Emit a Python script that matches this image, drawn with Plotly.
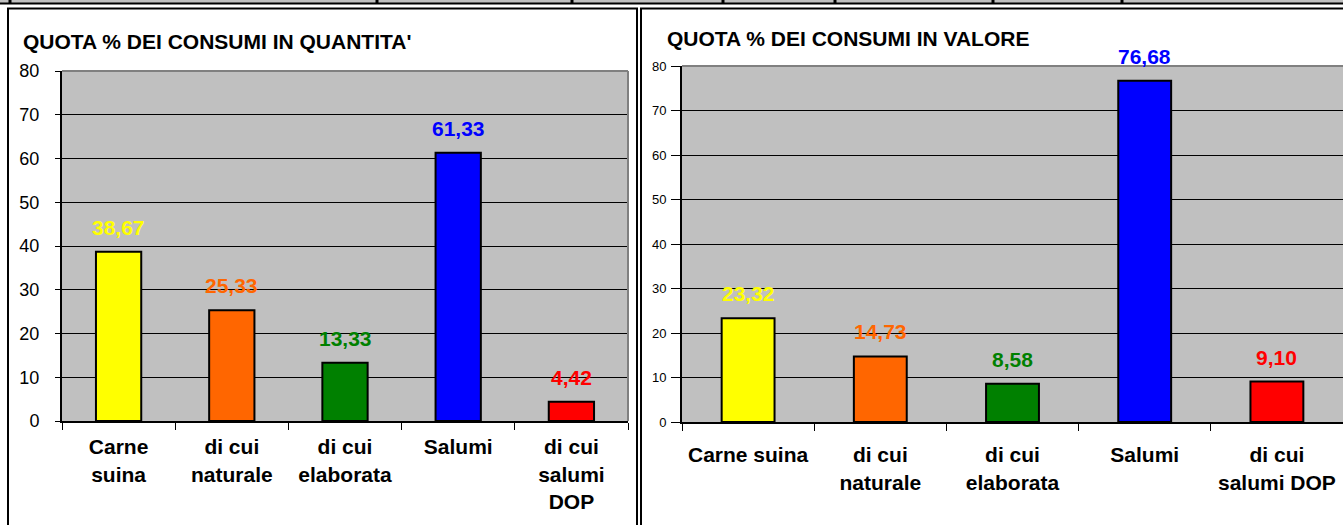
import plotly.graph_objects as go

# ---- data ----
cat_quantita = ["Carne<br>suina", "di cui<br>naturale", "di cui<br>elaborata", "Salumi", "di cui<br>salumi<br>DOP"]
cat_valore = ["Carne suina", "di cui<br>naturale", "di cui<br>elaborata", "Salumi", "di cui<br>salumi DOP"]
quantita = [38.67, 25.33, 13.33, 61.33, 4.42]
valore = [23.32, 14.73, 8.58, 76.68, 9.10]
bar_colors = ["#FFFF00", "#FF6600", "#008000", "#0000FF", "#FF0000"]
title_quantita = "QUOTA % DEI CONSUMI IN QUANTITA'"
title_valore = "QUOTA % DEI CONSUMI IN VALORE"
y_ticks = [0, 10, 20, 30, 40, 50, 60, 70, 80]

W, H = 1343, 525
FONT = "Liberation Sans"

def px(x):
    return x / W

def py(y):
    return 1 - y / H

fig = go.Figure()

fig.add_trace(go.Bar(x=cat_quantita, y=quantita, xaxis="x", yaxis="y",
                     marker=dict(color=bar_colors, line=dict(color="black", width=2)),
                     width=0.4, showlegend=False, hoverinfo="x+y"))
fig.add_trace(go.Bar(x=cat_valore, y=valore, xaxis="x2", yaxis="y2",
                     marker=dict(color=bar_colors, line=dict(color="black", width=2)),
                     width=0.4, showlegend=False, hoverinfo="x+y"))

def fmt(v):
    return f"{v:.2f}".replace(".", ",")

annotations = []
for cats, vals, xr, yr in [(cat_quantita, quantita, "x", "y"), (cat_valore, valore, "x2", "y2")]:
    for c, v, col in zip(cats, vals, bar_colors):
        annotations.append(dict(x=c, y=v, xref=xr, yref=yr, text="<b>" + fmt(v) + "</b>",
                                showarrow=False, yanchor="bottom", yshift=11,
                                font=dict(family=FONT, size=21, color=col)))

annotations.append(dict(x=px(21), y=py(42), xref="paper", yref="paper", xanchor="left", yanchor="middle",
                        text="<b>" + title_quantita + "</b>", showarrow=False,
                        font=dict(family=FONT, size=21, color="black")))
annotations.append(dict(x=px(665), y=py(38), xref="paper", yref="paper", xanchor="left", yanchor="middle",
                        text="<b>" + title_valore + "</b>", showarrow=False,
                        font=dict(family=FONT, size=21, color="black")))

shapes = []
# top table fragment
shapes.append(dict(type="rect", xref="paper", yref="paper", x0=0, x1=1, y0=py(3), y1=py(0),
                   fillcolor="#C0C0C0", line=dict(width=0), layer="above"))
shapes.append(dict(type="line", xref="paper", yref="paper", x0=0, x1=1, y0=py(3.5), y1=py(3.5),
                   line=dict(color="black", width=2), layer="above"))
for xd in [10, 377, 572, 723, 835, 993, 1122]:
    shapes.append(dict(type="line", xref="paper", yref="paper", x0=px(xd), x1=px(xd), y0=py(0), y1=py(3.5),
                       line=dict(color="black", width=3), layer="above"))
# panel borders
shapes.append(dict(type="rect", xref="paper", yref="paper", x0=px(8), x1=px(637), y0=py(530), y1=py(8.5),
                   line=dict(color="black", width=2), layer="above"))
shapes.append(dict(type="rect", xref="paper", yref="paper", x0=px(641), x1=px(1350), y0=py(530), y1=py(8.5),
                   line=dict(color="black", width=2), layer="above"))
# plot area top/right gray edges
shapes.append(dict(type="line", xref="paper", yref="paper", x0=px(62), x1=px(628), y0=py(71), y1=py(71),
                   line=dict(color="#808080", width=2), layer="above"))
shapes.append(dict(type="line", xref="paper", yref="paper", x0=px(628), x1=px(628), y0=py(71), y1=py(421),
                   line=dict(color="#808080", width=2), layer="above"))
shapes.append(dict(type="line", xref="paper", yref="paper", x0=px(682), x1=px(1343), y0=py(66), y1=py(66),
                   line=dict(color="#808080", width=2), layer="above"))

xaxis_common = dict(type="category", showgrid=False, showline=True, linecolor="black", linewidth=2,
                    ticks="outside", tickson="boundaries", ticklen=7, tickcolor="black", tickwidth=1,
                    tickfont=dict(family=FONT, size=21, color="black"), zeroline=False,
                    automargin=False, fixedrange=True)
yaxis_common = dict(range=[0, 80], tickvals=y_ticks, showgrid=True, gridcolor="black", gridwidth=1,
                    showline=True, linecolor="black", linewidth=2, ticks="outside", tickcolor="black",
                    zeroline=False, automargin=False, fixedrange=True)

fig.update_layout(
    template="none",
    width=W, height=H,
    autosize=False,
    margin=dict(l=0, r=0, t=0, b=0, pad=0, autoexpand=False),
    paper_bgcolor="white",
    plot_bgcolor="#C0C0C0",
    font=dict(family=FONT),
    showlegend=False,
    xaxis=dict(domain=[px(62), px(628)], anchor="y", ticklabelstandoff=6,
               tickvals=cat_quantita, ticktext=["<b>" + c + "</b>" for c in cat_quantita], **xaxis_common),
    yaxis=dict(domain=[py(421), py(71)], anchor="x", ticklen=5, ticklabelstandoff=12,
               tickfont=dict(family=FONT, size=18, color="black"), **yaxis_common),
    xaxis2=dict(domain=[px(682), px(1343)], anchor="y2", ticklabelstandoff=13,
                tickvals=cat_valore, ticktext=["<b>" + c + "</b>" for c in cat_valore], **xaxis_common),
    yaxis2=dict(domain=[py(422), py(66)], anchor="x2", ticklen=9, ticklabelstandoff=2,
                tickfont=dict(family=FONT, size=13, color="black"), **yaxis_common),
    annotations=annotations,
    shapes=shapes,
)

fig.write_html("out.html", config={"displayModeBar": False},
               post_script="document.body.style.margin='0';document.body.style.overflow='hidden';")
